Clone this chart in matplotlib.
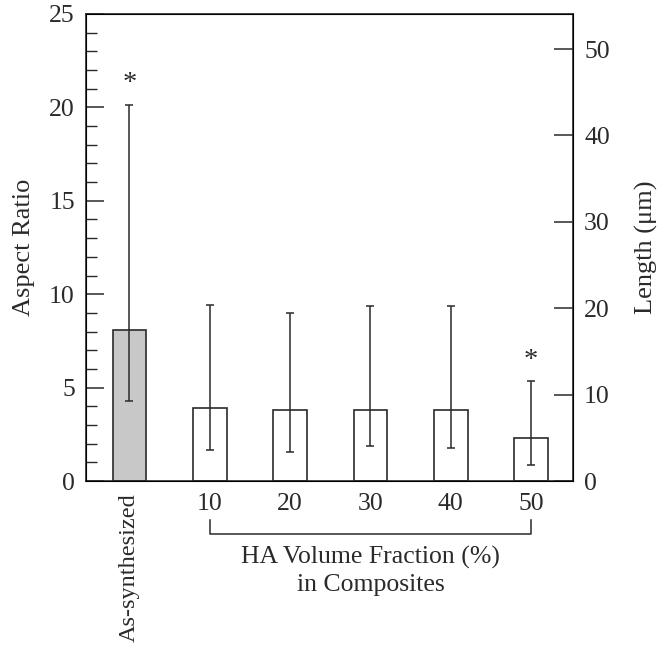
import numpy as np
import matplotlib
matplotlib.use('Agg')
from matplotlib import pyplot as plt
import matplotlib.transforms as mtrans

# values
groups = ['As-synthesized', '10', '20', '30', '40', '50']
aspect = [8.07, 3.91, 3.82, 3.82, 3.82, 2.32]
err_lo = [4.27, 1.66, 1.57, 1.86, 1.77, 0.84]
err_hi = [20.15, 9.42, 8.98, 9.39, 9.35, 5.35]
star_groups = [0, 5]
fills = ['#c8c8c8', 'white', 'white', 'white', 'white', 'white']

plt.rcParams['font.family'] = ['Liberation Serif', 'DejaVu Serif']
ink = '#2a2a2a'
fs = 18.5

fig = plt.figure(figsize=(6.65, 6.49), dpi=100)
ax = fig.add_axes([86/665, 1-481/649, 487/665, 467/649])

x = np.arange(len(groups))
a = np.array(aspect)
yerr = [a - np.array(err_lo), np.array(err_hi) - a]
ax.bar(x, a, width=0.42, color=fills, edgecolor=ink, linewidth=1.2, zorder=2)
ax.errorbar(x, a, yerr=yerr, fmt='none', ecolor=ink, elinewidth=1.1,
            capsize=3, capthick=1.1, zorder=3)
for g in star_groups:
    ax.text(x[g], err_hi[g] + 0.45, '*', ha='center', va='bottom',
            fontsize=fs + 2, color=ink)

ax.set_xlim(-0.54, 5.52)
ax.set_ylim(0, 25)
ax.set_yticks(np.arange(0, 26, 5))
ax.set_yticks(np.arange(0, 26, 1), minor=True)
ax.tick_params(axis='y', which='major', direction='in', length=13, width=1.1,
               labelsize=fs, colors=ink, pad=8)
ax.tick_params(axis='y', which='minor', direction='in', length=8, width=1.0,
               colors=ink)
ax.set_xticks(x)
ax.set_xticklabels(groups)
ax.tick_params(axis='x', length=0, labelsize=fs, colors=ink, pad=9)
lab0 = ax.get_xticklabels()[0]
lab0.set_rotation(90)
lab0.set_va('top')
lab0.set_fontsize(17.5)
ax.set_ylabel('Aspect Ratio', fontsize=fs + 0.5, color=ink, labelpad=10)
for s in ax.spines.values():
    s.set_color(ink)
    s.set_linewidth(1.2)

ax2 = ax.twinx()
ax2.set_ylim(0, 25 * 50 / (481 - 49) * 467 / 25)
ax2.set_yticks(np.arange(0, 51, 10))
ax2.tick_params(axis='y', direction='in', length=14, width=1.1,
                labelsize=fs, colors=ink, pad=8)
ax2.set_ylabel('Length (\u03bcm)', fontsize=fs + 0.5, color=ink, labelpad=18)

# bracket under the composite groups
tr = mtrans.blended_transform_factory(ax.transData, ax.transAxes)
ax.plot([1, 1, 5, 5], [-0.083, -0.1135, -0.1135, -0.083], color=ink,
        lw=1.1, transform=tr, clip_on=False)
ax.text(3, -0.138, 'HA Volume Fraction (%)\nin Composites', transform=tr,
        ha='center', va='top', fontsize=fs, color=ink, linespacing=1.3)

fig.savefig('out.png', dpi=100)
